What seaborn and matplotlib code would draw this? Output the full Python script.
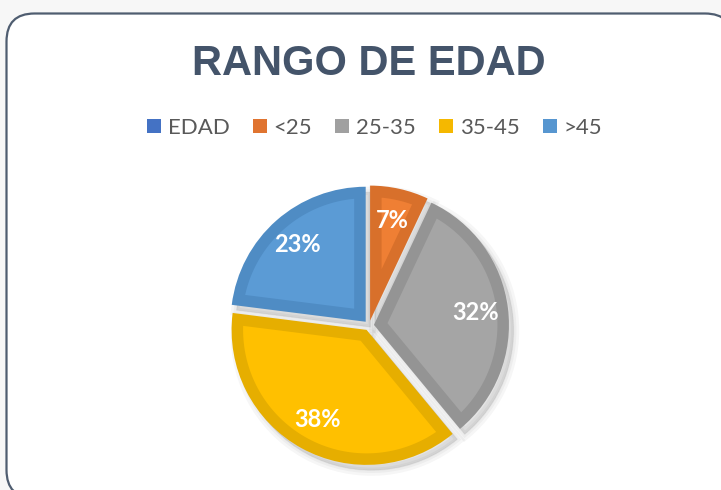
import matplotlib
matplotlib.use("Agg")
import numpy as np
import matplotlib.pyplot as plt
import seaborn as sns
from matplotlib.patches import FancyBboxPatch, Patch, Wedge, Polygon

# ---- data ----
categories = ["EDAD", "<25", "25-35", "35-45", ">45"]
values = [0, 7, 32, 38, 23]
legend_colors = ["#4472C4", "#E07430", "#A0A0A0", "#F5B800", "#5796D0"]
fill_colors = {"<25": "#EF7F34", "25-35": "#A5A5A5", "35-45": "#FFC000", ">45": "#5B9BD5"}
edge_colors = {"<25": "#D8702B", "25-35": "#949494", "35-45": "#E6AE00", ">45": "#4F8CC4"}
label_nudge = {"<25": (0.0, 0.0), "25-35": (0.0, 0.0), "35-45": (0.0, 0.0), ">45": (0.0, 0.0)}

sns.set_theme(style="white")
plt.rcParams['font.family'] = ['Lato', 'DejaVu Sans']

W, H = 721, 490
fig = plt.figure(figsize=(W / 100, H / 100), dpi=100, facecolor="#F7F7F7")

# background frame
bg = fig.add_axes([0, 0, 1, 1])
bg.set_xlim(0, W)
bg.set_ylim(H, 0)
bg.axis('off')
box = FancyBboxPatch((6.5, 13.5), 733 - 6.5, 498 - 13.5,
                     boxstyle="round,pad=0,rounding_size=28",
                     fc="white", ec="#4F5D70", lw=1.6)
bg.add_patch(box)
bg.text(369, 75, "RANGO DE EDAD", ha='center', va='baseline', fontsize=30,
        fontweight='bold', color='#44546A', family=['Liberation Sans', 'DejaVu Sans'])

# pie
cx, cy, R, half = 369, 325.5, 135, 165
ax = fig.add_axes([(cx - half) / W, (H - cy - half) / H, 2 * half / W, 2 * half / H])
pie_labels = [c for c, v in zip(categories, values) if v > 0]
pie_vals = [v for v in values if v > 0]
wedges, texts, autotexts = ax.pie(
    pie_vals,
    colors=[edge_colors[c] for c in pie_labels],
    explode=[0.037] * len(pie_vals),
    startangle=90, counterclock=False,
    autopct='%1.0f%%', pctdistance=0.76,
    wedgeprops=dict(linewidth=0),
    textprops=dict(color='white', fontsize=17, fontweight='bold', zorder=5),
)
inset = 11.5 / R
for w, c, t in zip(wedges, pie_labels, autotexts):
    x0, y0 = w.center
    r = w.r
    t1, t2 = np.radians(w.theta1), np.radians(w.theta2)
    hw = (t2 - t1) / 2
    bis = (t1 + t2) / 2
    apex = (x0 + inset / np.sin(hw) * np.cos(bis), y0 + inset / np.sin(hw) * np.sin(bis))
    rho = r - inset
    dl = np.arcsin(inset / rho)
    ang = np.linspace(t1 + dl, t2 - dl, 80)
    pts = [apex] + [(x0 + rho * np.cos(a), y0 + rho * np.sin(a)) for a in ang]
    ax.add_patch(Polygon(pts, closed=True, fc=fill_colors[c], ec='none', zorder=2))
    # soft shadow (down-right)
    for lw in [8, 4, 1]:
        s = Wedge((x0 + 0.035, y0 - 0.04), r, w.theta1, w.theta2,
                  fc=(0, 0, 0, 0.035), ec=(0, 0, 0, 0.035), lw=lw, zorder=0)
        ax.add_patch(s)
    px, py = t.get_position()
    dx, dy = label_nudge[c]
    t.set_position((px + dx, py + dy))
ax.set_xlim(-half / R, half / R)
ax.set_ylim(-half / R, half / R)
ax.axis('off')

# legend
handles = [Patch(fc=c, ec='none') for c in legend_colors]
fig.legend(handles, categories, loc='center', bbox_to_anchor=(374.5 / W, 1 - 128 / H),
           ncol=5, frameon=False, fontsize=16, handlelength=0.63, handleheight=0.63,
           handletextpad=0.3, columnspacing=1.05, labelcolor='#595959',
           borderpad=0, borderaxespad=0)

fig.savefig("out.png", dpi=100, facecolor=fig.get_facecolor())
